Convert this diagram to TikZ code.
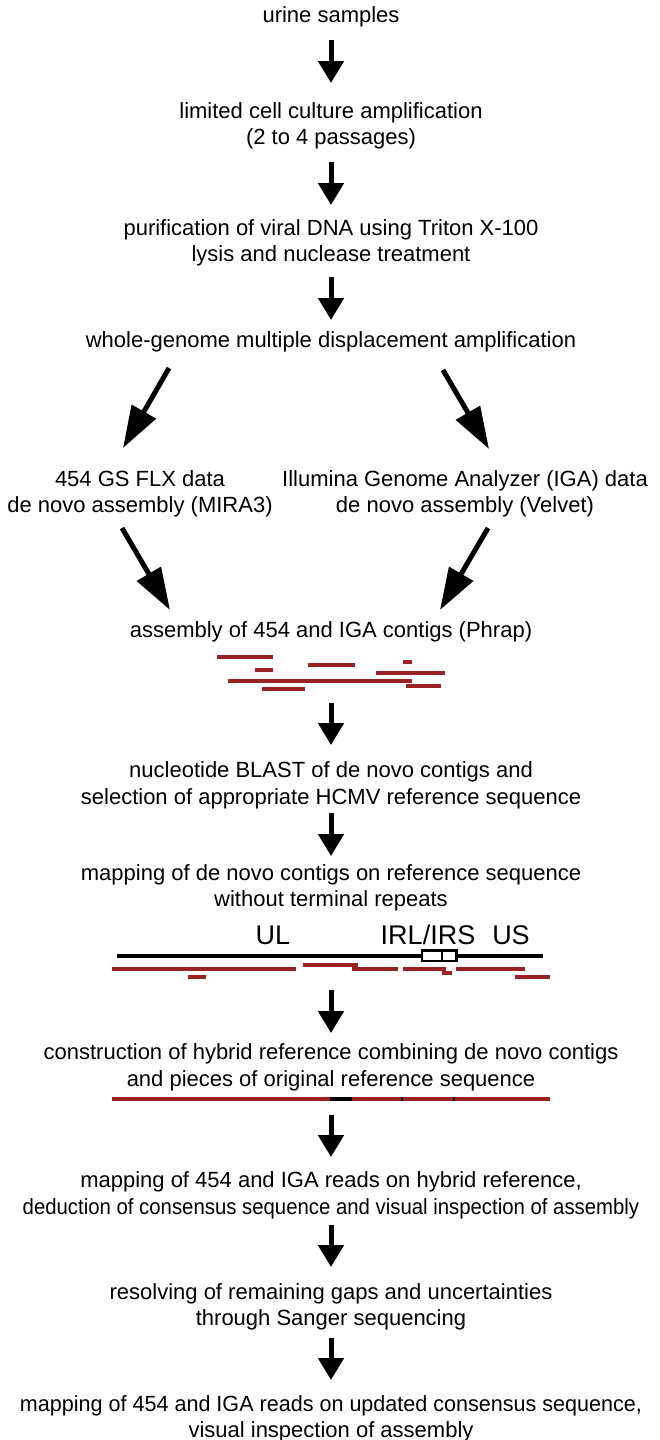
\documentclass[tikz,border=0pt]{standalone}
\usepackage{fontspec}
\setmainfont{Liberation Sans}
\usetikzlibrary{arrows.meta}
\definecolor{contig}{RGB}{155,34,34}
\begin{document}
\begin{tikzpicture}[x=1pt,y=-1pt,
  txt/.style={inner sep=0pt,align=center,font=\fontsize{22}{26.5}\selectfont},
  varrow/.style={line width=5pt,-{Triangle[length=22pt,width=25pt]}},
  darrow/.style={line width=5pt,-{Triangle[length=42pt,width=27pt]}},
  ctg/.style={line width=4pt,contig},
  refline/.style={line width=4pt,black},
  lbl/.style={inner sep=0pt,font=\fontsize{27}{30}\selectfont}]
\useasboundingbox[fill=white] (0,0) rectangle (659,1440);

% text nodes
\node[txt] (n1) at (331,17) {urine samples};
\node[txt] (n2) at (331,126) {limited cell culture amplification\\(2 to 4 passages)};
\node[txt] (n3) at (331,243) {purification of viral DNA using Triton X-100\\lysis and nuclease treatment};
\node[txt] (n4) at (331,342) {whole-genome multiple displacement amplification};
\node[txt] (n5l) at (140,494) {454 GS FLX data\\de novo assembly (MIRA3)};
\node[txt] (n5r) at (465,494) {Illumina Genome Analyzer (IGA) data\\de novo assembly (Velvet)};
\node[txt] (n6) at (331,632) {assembly of 454 and IGA contigs (Phrap)};
\node[txt] (n7) at (331,785.5) {nucleotide BLAST of de novo contigs and\\selection of appropriate HCMV reference sequence};
\node[txt] (n8) at (331,888) {mapping of de novo contigs on reference sequence\\without terminal repeats};
\node[lbl] (ul) at (273,935) {UL};
\node[lbl] (irl) at (428,935) {IRL/IRS};
\node[lbl] (us) at (511,935) {US};
\node[txt] (n10) at (331,1067.5) {construction of hybrid reference combining de novo contigs\\and pieces of original reference sequence};
\node[txt] (n11) at (331,1195.5) {mapping of 454 and IGA reads on hybrid reference,\\\scalebox{0.925}[1]{deduction of consensus sequence and visual inspection of assembly}};
\node[txt] (n12) at (331,1307) {resolving of remaining gaps and uncertainties\\through Sanger sequencing};
\node[txt] (n13) at (331,1419) {\scalebox{0.98}[1]{mapping of 454 and IGA reads on updated consensus sequence,}\\visual inspection of assembly};

% arrow end points
\coordinate (a1s) at (331,40);   \coordinate (a1e) at (331,83);
\coordinate (a2s) at (331,162);  \coordinate (a2e) at (331,205);
\coordinate (a3s) at (331,277);  \coordinate (a3e) at (331,320);
\coordinate (dls) at (169,368);  \coordinate (dle) at (123,448);
\coordinate (drs) at (443,370);  \coordinate (dre) at (489,449);
\coordinate (els) at (122,528);  \coordinate (ele) at (170,610);
\coordinate (ers) at (488,528);  \coordinate (ere) at (440,610);
\coordinate (a4s) at (331,703);  \coordinate (a4e) at (331,745);
\coordinate (a5s) at (331,813);  \coordinate (a5e) at (331,856);
\coordinate (a6s) at (331,990);  \coordinate (a6e) at (331,1033);
\coordinate (a7s) at (331,1115); \coordinate (a7e) at (331,1157);
\coordinate (a8s) at (331,1225); \coordinate (a8e) at (331,1267);
\coordinate (a9s) at (331,1338); \coordinate (a9e) at (331,1380);

\draw[varrow] (a1s) -- (a1e);
\draw[varrow] (a2s) -- (a2e);
\draw[varrow] (a3s) -- (a3e);
\draw[darrow] (dls) -- (dle);
\draw[darrow] (drs) -- (dre);
\draw[darrow] (els) -- (ele);
\draw[darrow] (ers) -- (ere);
\draw[varrow] (a4s) -- (a4e);
\draw[varrow] (a5s) -- (a5e);
\draw[varrow] (a6s) -- (a6e);
\draw[varrow] (a7s) -- (a7e);
\draw[varrow] (a8s) -- (a8e);
\draw[varrow] (a9s) -- (a9e);

% contigs after Phrap
\draw[ctg] (217,657) -- (273,657);
\draw[ctg] (255,670) -- (273,670);
\draw[ctg] (308,665) -- (355,665);
\draw[ctg] (403,662) -- (412,662);
\draw[ctg] (376,673) -- (445,673);
\draw[ctg] (228,681) -- (412,681);
\draw[ctg] (262,689) -- (305,689);
\draw[ctg] (406,686) -- (441,686);

% reference sequence
\draw[refline] (117,956) -- (543,956);
\draw[line width=2.5pt,fill=white] (422,950.5) rectangle (456.5,961);
\draw[line width=2.5pt] (442,950.5) -- (442,961);
\draw[ctg] (112,969) -- (296,969);
\draw[ctg] (188,977) -- (206,977);
\draw[ctg] (303,965) -- (358,965);
\draw[ctg] (352,969) -- (398,969);
\draw[ctg] (403,969) -- (446,969);
\draw[ctg] (442,973) -- (452,973);
\draw[ctg] (456,969) -- (525,969);
\draw[ctg] (515,977) -- (550,977);

% hybrid reference
\draw[ctg] (112,1099) -- (550,1099);
\draw[refline] (330,1099) -- (352,1099);
\draw[line width=4pt] (400.5,1099) -- (402.5,1099);
\draw[line width=4pt] (453,1099) -- (455,1099);
\end{tikzpicture}
\end{document}
